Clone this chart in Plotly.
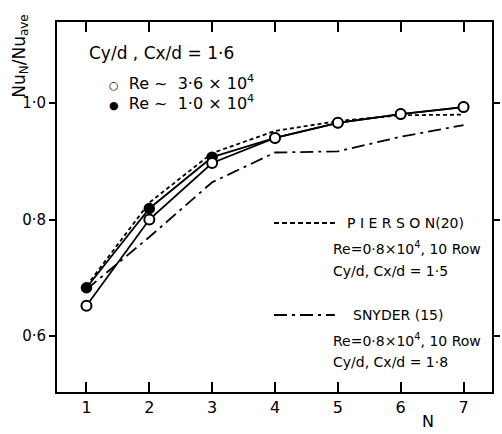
import plotly.graph_objects as go

# Row number N
rows = [1, 2, 3, 4, 5, 6, 7]

# Measured Nu_N / Nu_ave
re_36e4 = [0.652, 0.800, 0.897, 0.940, 0.966, 0.981, 0.993]
re_10e4 = [0.683, 0.819, 0.907, 0.940, 0.966, 0.981, 0.993]

# Literature curves
pierson = [0.686, 0.829, 0.914, 0.952, 0.969, 0.979, 0.980]
snyder = [0.680, 0.770, 0.864, 0.915, 0.917, 0.942, 0.962]

y_ticks = [0.6, 0.8, 1.0]
y_tick_text = ["0·6", "0·8", "1·0"]

FONT = "DejaVu Sans"
INK = "black"

fig = go.Figure()

fig.add_trace(go.Scatter(x=rows, y=pierson, mode="lines",
                         line=dict(color=INK, width=1.8, dash="4px,3px")))
fig.add_trace(go.Scatter(x=rows, y=snyder, mode="lines",
                         line=dict(color=INK, width=1.8, dash="13px,5px,3px,5px")))
fig.add_trace(go.Scatter(x=rows, y=re_10e4, mode="lines+markers",
                         line=dict(color=INK, width=1.8),
                         marker=dict(symbol="circle", size=10, color=INK,
                                     line=dict(color=INK, width=1.5))))
fig.add_trace(go.Scatter(x=rows, y=re_36e4, mode="lines+markers",
                         line=dict(color=INK, width=1.8),
                         marker=dict(symbol="circle", size=10, color="white",
                                     line=dict(color=INK, width=2))))

# Plot area geometry in pixels (for placing paper-space text)
L, R, T, B = 57, 500, 22, 392


def px(xp):
    return (xp - L) / (R - L)


def py(yp):
    return (B - yp) / (B - T)


def note(text, x, y, size=15, xanchor="left", yanchor="middle", angle=0):
    fig.add_annotation(text=text, x=px(x), y=py(y), xref="paper", yref="paper",
                       xanchor=xanchor, yanchor=yanchor, showarrow=False,
                       textangle=angle, font=dict(family=FONT, size=size, color=INK))


SYM = "<span style='font-size:11px'>{}</span>"

# Upper-left key
note("Cy/d , Cx/d = 1·6", 88, 53, size=17)
note(SYM.format("○") + "  Re ~  3·6 × 10<sup>4</sup>", 108, 82, size=16)
note(SYM.format("●") + "  Re ~  1·0 × 10<sup>4</sup>", 108, 102, size=16)

# Right-hand key with line samples
fig.add_shape(type="line", xref="paper", yref="paper",
              x0=px(278), x1=px(340), y0=py(223), y1=py(223),
              line=dict(color=INK, width=1.8, dash="5px,3px"))
note("P I E R S O N(20)", 350, 223, size=14)
note("Re=0·8×10<sup>4</sup>, 10 Row", 336, 248, size=14)
note("Cy/d, Cx/d = 1·5", 336, 271, size=14)

fig.add_shape(type="line", xref="paper", yref="paper",
              x0=px(278), x1=px(340), y0=py(315), y1=py(315),
              line=dict(color=INK, width=1.8, dash="13px,5px,3px,5px"))
note("SNYDER (15)", 356, 315, size=14)
note("Re=0·8×10<sup>4</sup>, 10 Row", 336, 340, size=14)
note("Cy/d, Cx/d = 1·8", 336, 362, size=14)

# Axis titles
note("Nu<sub>N</sub>/Nu<sub>ave</sub>", 20, 56, size=17, xanchor="center", angle=-90)
note("N", 435, 433, size=16, xanchor="center", yanchor="bottom")

fig.update_layout(
    width=502, height=434,
    margin=dict(l=L, r=502 - R, t=T, b=434 - B),
    paper_bgcolor="white", plot_bgcolor="white",
    showlegend=False,
    font=dict(family=FONT, size=16, color=INK),
)
fig.update_xaxes(range=[0.531, 7.453], tickvals=rows, ticks="inside", ticklen=10,
                 tickwidth=2, tickcolor=INK, showline=True, linewidth=2,
                 linecolor=INK, mirror="ticks", showgrid=False, zeroline=False,
                 tickfont=dict(family=FONT, size=16, color=INK))
fig.update_yaxes(range=[0.504, 1.139], tickvals=y_ticks, ticktext=y_tick_text,
                 ticks="outside", ticklen=6, tickwidth=2, tickcolor=INK,
                 showline=True, linewidth=2, linecolor=INK, mirror="ticks",
                 showgrid=False, zeroline=False,
                 tickfont=dict(family=FONT, size=15, color=INK))

fig.write_html("out.html")
